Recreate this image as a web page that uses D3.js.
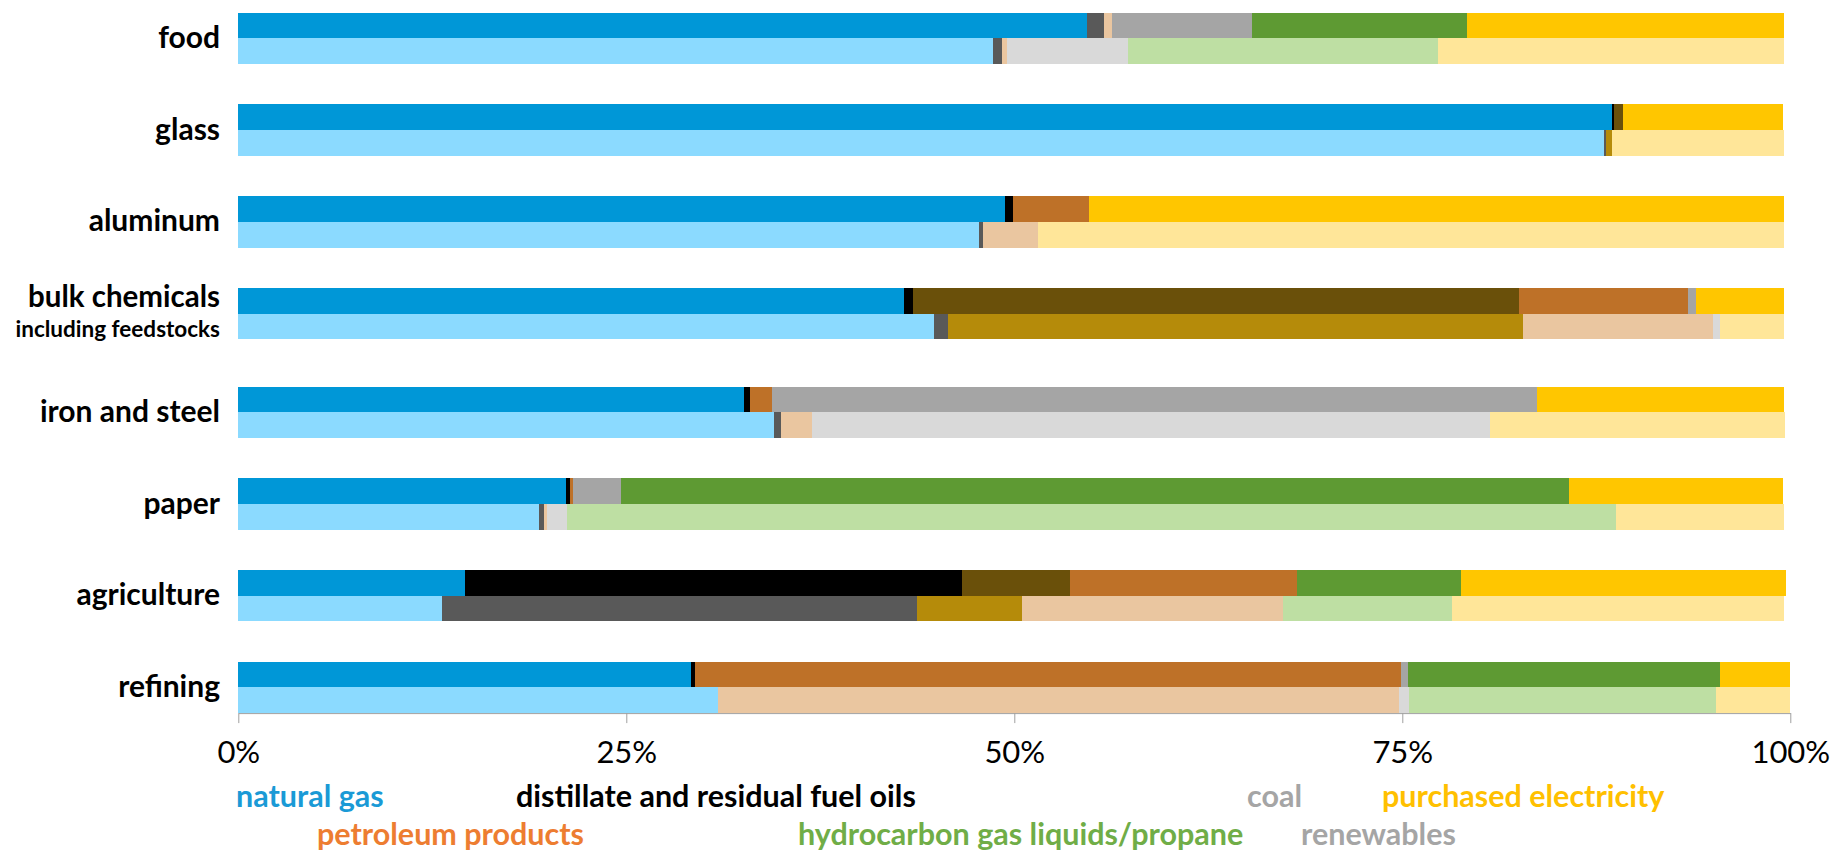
<!DOCTYPE html>
<html>
<head>
<meta charset="utf-8">
<script src="https://cdn.jsdelivr.net/npm/d3@7"></script>
<style>
  html, body { margin: 0; padding: 0; background: #fff; }
  svg text { font-family: Lato, "Open Sans", sans-serif; }
</style>
</head>
<body>
<div id="chart"></div>
<script>
// categories, top to bottom
const categories = ['food', 'glass', 'aluminum', 'bulk chemicals', 'iron and steel', 'paper', 'agriculture', 'refining']
const fuels = ['naturalGas', 'distillate', 'hgl', 'petroleum', 'coal', 'renewables', 'electricity']

// upper (dark) bar of each pair, percent of energy use
const naturalGasUpper = [54.7, 88.5, 49.4, 42.9, 32.6, 21.1, 14.6, 29.2]
const distillateUpper = [1.1, 0.15, 0.5, 0.6, 0.4, 0.25, 32.0, 0.25]
const hglUpper = [0, 0.6, 0, 39.0, 0, 0, 7.0, 0]
const petroleumUpper = [0.5, 0, 4.9, 10.9, 1.4, 0.2, 14.6, 45.45]
const coalUpper = [9.0, 0, 0, 0.5, 49.3, 3.1, 0, 0.45]
const renewablesUpper = [13.9, 0, 0, 0, 0, 61.1, 10.6, 20.15]
const electricityUpper = [20.4, 10.3, 44.8, 5.7, 15.9, 13.8, 20.9, 4.5]

// lower (light) bar of each pair
const naturalGasLower = [48.6, 88.0, 47.7, 44.8, 34.5, 19.4, 13.1, 30.9]
const distillateLower = [0.6, 0.13, 0.3, 0.9, 0.45, 0.3, 30.6, 0]
const hglLower = [0, 0.35, 0, 37.05, 0, 0, 6.8, 0]
const petroleumLower = [0.3, 0, 3.5, 12.3, 2.0, 0.2, 16.8, 43.9]
const coalLower = [7.8, 0, 0, 0.45, 43.7, 1.3, 0, 0.65]
const renewablesLower = [20.0, 0, 0, 0, 0, 67.6, 10.9, 19.75]
const electricityLower = [22.3, 11.1, 48.1, 4.1, 19.0, 10.8, 21.4, 4.8]

const tickValues = [0, 25, 50, 75, 100]

const upperColors = {
  naturalGas: '#0097d7', distillate: '#000000', hgl: '#6a500a', petroleum: '#be7128',
  coal: '#a5a5a5', renewables: '#5e9a33', electricity: '#ffc600'
}
const lowerColors = {
  naturalGas: '#8bdaff', distillate: '#595959', hgl: '#b58b0a', petroleum: '#eac6a0',
  coal: '#d9d9d9', renewables: '#bedfa3', electricity: '#ffe699'
}

const legendRow1 = [
  { text: 'natural gas', color: '#1a9ad6', x: 236 },
  { text: 'distillate and residual fuel oils', color: '#000000', x: 516 },
  { text: 'coal', color: '#a5a5a5', x: 1247 },
  { text: 'purchased electricity', color: '#ffc000', x: 1382 }
]
const legendRow2 = [
  { text: 'petroleum products', color: '#ed7d31', x: 317 },
  { text: 'hydrocarbon gas liquids/propane', color: '#70ad47', x: 798 },
  { text: 'renewables', color: '#a5a5a5', x: 1301 }
]

// build rows for d3.stack
const seriesUpper = { naturalGas: naturalGasUpper, distillate: distillateUpper, hgl: hglUpper, petroleum: petroleumUpper,
  coal: coalUpper, renewables: renewablesUpper, electricity: electricityUpper }
const seriesLower = { naturalGas: naturalGasLower, distillate: distillateLower, hgl: hglLower, petroleum: petroleumLower,
  coal: coalLower, renewables: renewablesLower, electricity: electricityLower }

function buildRows(series) {
  return categories.map((c, i) => {
    let row = { category: c }
    fuels.forEach(f => { row[f] = series[f][i] })
    return row
  })
}

const W = 1839, H = 851

const svg = d3.select('#chart').append('svg')
  .attr('width', W).attr('height', H)

const x = d3.scaleLinear().domain([0, 100]).range([238.3, 1790.3])

// pairs of bars, 91.7px apart, 51.5px tall; a little extra room under the two-line label
const pairH = 51.5, step = 91.7, extraGap = 7
const y = d3.scaleBand().domain(categories)
  .range([12.7, 12.7 + (categories.length - 1) * step + pairH])
  .paddingInner(1 - pairH / step).paddingOuter(0)
const yPair = d3.scaleBand().domain(['upper', 'lower']).range([0, y.bandwidth()])

function yTop(c) {
  return y(c) + (categories.indexOf(c) > categories.indexOf('bulk chemicals') ? extraGap : 0)
}

const stack = d3.stack().keys(fuels)

function colorFor(key, which, category) {
  // food's dark bar uses the lighter shades for its two thin slivers
  if (which === 'upper' && category === 'food' && (key === 'distillate' || key === 'petroleum')) {
    return lowerColors[key]
  }
  return which === 'upper' ? upperColors[key] : lowerColors[key]
}

const barsG = svg.append('g')
;[['upper', seriesUpper], ['lower', seriesLower]].forEach(([which, series]) => {
  const stacked = stack(buildRows(series))
  stacked.forEach(layer => {
    barsG.append('g').selectAll('rect')
      .data(layer.filter(d => d[1] - d[0] > 0))
      .join('rect')
      .attr('x', d => x(d[0]))
      .attr('width', d => x(d[1]) - x(d[0]))
      .attr('y', d => yTop(d.data.category) + yPair(which))
      .attr('height', yPair.bandwidth())
      .attr('fill', d => colorFor(layer.key, which, d.data.category))
      .attr('shape-rendering', 'crispEdges')
  })
})

// x axis
const axisY = yTop('refining') + y.bandwidth()
const axisG = svg.append('g')
  .attr('transform', `translate(0,${axisY})`)
  .call(d3.axisBottom(x).tickValues(tickValues).tickFormat(d => d + '%').tickSize(10).tickSizeOuter(0).tickPadding(18))
axisG.select('.domain').attr('stroke', '#a0a0a0')
axisG.selectAll('.tick line').attr('stroke', '#a0a0a0')
axisG.selectAll('.tick text')
  .attr('font-size', 31)
  .attr('font-family', 'Lato, sans-serif')
  .attr('fill', '#000')

// category labels
const labelsG = svg.append('g')
categories.forEach(c => {
  const top = yTop(c)
  if (c === 'bulk chemicals') {
    labelsG.append('text')
      .attr('x', 220).attr('y', top + 18.7)
      .attr('text-anchor', 'end').attr('font-size', 29.5).attr('font-weight', 'bold')
      .text(c)
    labelsG.append('text')
      .attr('x', 220).attr('y', top + yPair('lower') + 23.6)
      .attr('text-anchor', 'end').attr('font-size', 22.5).attr('font-weight', 'bold')
      .text('including feedstocks')
  } else {
    labelsG.append('text')
      .attr('x', 220).attr('y', top + y.bandwidth() / 2 + 9.6)
      .attr('text-anchor', 'end').attr('font-size', 30).attr('font-weight', 'bold')
      .text(c)
  }
})

// legend (colored text only)
const legendG = svg.append('g')
function drawLegendRow(items, baseline) {
  legendG.append('g').selectAll('text')
    .data(items)
    .join('text')
    .attr('x', d => d.x)
    .attr('y', baseline)
    .attr('font-size', 30.5)
    .attr('font-weight', 'bold')
    .attr('fill', d => d.color)
    .text(d => d.text)
}
drawLegendRow(legendRow1, 807)
drawLegendRow(legendRow2, 845)
</script>
</body>
</html>
